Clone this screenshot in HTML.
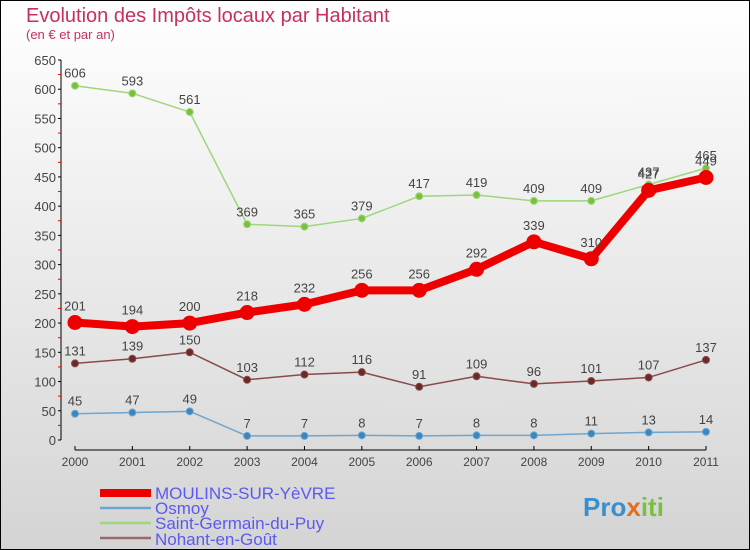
<!DOCTYPE html>
<html><head><meta charset="utf-8"><style>
body{margin:0;width:750px;height:550px;overflow:hidden;font-family:"Liberation Sans",sans-serif}
#c{position:absolute;left:0;top:0}
</style></head><body>
<svg id="c" width="750" height="550" xmlns="http://www.w3.org/2000/svg">
<defs><linearGradient id="bg" x1="0" y1="0" x2="0" y2="1"><stop offset="0" stop-color="#ffffff"/><stop offset="1" stop-color="#d4d4d4"/></linearGradient></defs>
<rect x="0.5" y="0.5" width="749" height="549" fill="url(#bg)" stroke="#000"/>
<text x="26" y="22" font-size="20" fill="#c8305a">Evolution des Impôts locaux par Habitant</text>
<text x="26" y="39" font-size="13" fill="#c8305a">(en € et par an)</text>
<g id="axes"></g><g id="series"></g>
<g font-size="17" fill="#5a5aee">
<rect x="100" y="489" width="51" height="8" fill="#e00"/>
<text x="155" y="499">MOULINS-SUR-YèVRE</text>
<line x1="100" y1="508" x2="151" y2="508" stroke="#6ea6d0" stroke-width="2.5"/>
<text x="155" y="514">Osmoy</text>
<line x1="100" y1="523" x2="151" y2="523" stroke="#9ed67a" stroke-width="2.5"/>
<text x="155" y="529">Saint-Germain-du-Puy</text>
<line x1="100" y1="538" x2="151" y2="538" stroke="#9a6a6a" stroke-width="2.5"/>
<text x="155" y="545">Nohant-en-Goût</text>
</g>
<text x="583" y="516" font-size="26" font-weight="bold" fill="#3a8fd0">Pro<tspan fill="#e07020">x</tspan><tspan fill="#7ac040">iti</tspan></text>
</svg>
<script>
const years=[2000,2001,2002,2003,2004,2005,2006,2007,2008,2009,2010,2011];
const yTicks=[0,50,100,150,200,250,300,350,400,450,500,550,600,650];
const moulins=[201,194,200,218,232,256,256,292,339,310,427,449];
const osmoy=[45,47,49,7,7,8,7,8,8,11,13,14];
const stgermain=[606,593,561,369,365,379,417,419,409,409,437,465];
const nohant=[131,139,150,103,112,116,91,109,96,101,107,137];
const NS="http://www.w3.org/2000/svg";
const X=i=>75+i*(631/11), Y=v=>440-v*(380/650);
function mk(t,a,p){const e=document.createElementNS(NS,t);for(const k in a)e.setAttribute(k,a[k]);p.appendChild(e);return e;}
const ax=document.getElementById('axes');
let l=mk('line',{x1:61,y1:Y(650),x2:61,y2:Y(0),stroke:'#000'},ax);


yTicks.forEach(v=>{mk('line',{x1:58,y1:Y(v),x2:61,y2:Y(v),stroke:'#000'},ax);
 mk('line',{x1:58,y1:Y(v+25),x2:61,y2:Y(v+25),stroke:v<650?'#e00':'none'},ax);
 const t=mk('text',{x:56,y:Y(v)+5,'font-size':13,'text-anchor':'end',fill:'#444'},ax);t.textContent=v;
 
 });
l=mk('line',{x1:75,y1:450,x2:706,y2:450,stroke:'#000'},ax);


years.forEach((y,i)=>{mk('line',{x1:X(i),y1:450,x2:X(i),y2:446,stroke:'#000'},ax);
 const t=mk('text',{x:X(i),y:466,'font-size':12,'text-anchor':'middle',fill:'#444'},ax);t.textContent=y;
 
 });
const sg=document.getElementById('series');
function series(d,col,dot,w,r,name){
 const g=mk('g',{},sg);
 
 
 mk('polyline',{points:d.map((v,i)=>X(i)+','+Y(v)).join(' '),fill:'none',stroke:col,'stroke-width':w,'stroke-linejoin':'round'},g);
 d.forEach((v,i)=>{const c=mk('circle',{cx:X(i),cy:Y(v),r:r,fill:dot,stroke:col},g);
  
  
  const t=mk('text',{x:X(i),y:Y(v)-(w>3?12:8),'font-size':13,'text-anchor':'middle',fill:'#444'},g);t.textContent=v;
  
  });
}
series(stgermain,'#9ed67a','#7ac040',1.5,3.5,'saint-germain-series');
series(nohant,'#8a4a4a','#6a2a2a',1.5,3.5,'nohant-series');
series(osmoy,'#6ea6d0','#3a86c0',1.5,3.5,'osmoy-series');
series(moulins,'#e00','#e00',8,7,'moulins-series');
</script>
</body></html>
